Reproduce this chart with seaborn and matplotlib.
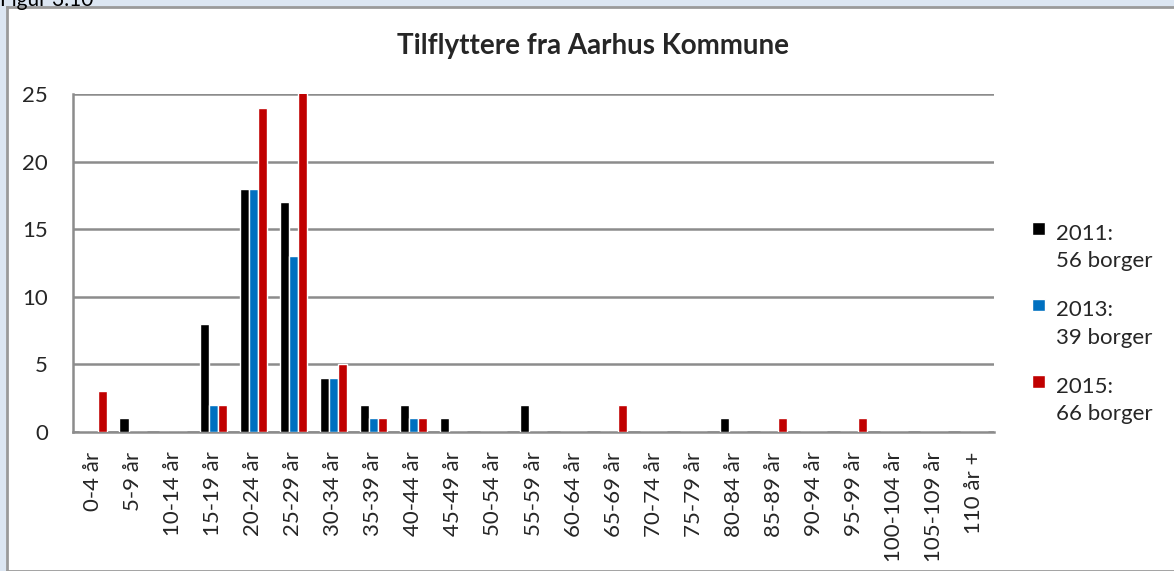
import pandas as pd
import matplotlib.pyplot as plt
import seaborn as sns
from matplotlib.patches import Rectangle
from matplotlib.legend_handler import HandlerPatch

# age groups on the x axis
categories = ['0-4 år', '5-9 år', '10-14 år', '15-19 år', '20-24 år', '25-29 år',
              '30-34 år', '35-39 år', '40-44 år', '45-49 år', '50-54 år', '55-59 år',
              '60-64 år', '65-69 år', '70-74 år', '75-79 år', '80-84 år', '85-89 år',
              '90-94 år', '95-99 år', '100-104 år', '105-109 år', '110 år +']

# counts
v2011 = [0, 1, 0, 8, 18, 17, 4, 2, 2, 1, 0, 2, 0, 0, 0, 0, 1, 0, 0, 0, 0, 0, 0]
v2013 = [0, 0, 0, 2, 18, 13, 4, 1, 1, 0, 0, 0, 0, 0, 0, 0, 0, 0, 0, 0, 0, 0, 0]
v2015 = [3, 0, 0, 2, 24, 26, 5, 1, 1, 0, 0, 0, 0, 2, 0, 0, 0, 1, 0, 1, 0, 0, 0]

series_labels = ['2011:\n56 borger', '2013:\n39 borger', '2015:\n66 borger']
colors = ['#000000', '#0070C0', '#C00000']

# long format for seaborn
df = pd.DataFrame({
    'alder': categories * 3,
    'antal': v2011 + v2013 + v2015,
    'aar': [series_labels[0]] * 23 + [series_labels[1]] * 23 + [series_labels[2]] * 23,
})

sns.set_style('white')
plt.rcParams['font.family'] = ['Lato', 'DejaVu Sans']

fig = plt.figure(figsize=(11.74, 5.71), dpi=100)
fig.patch.set_facecolor('#dce6f2')
# white chart area with grey frame, behind everything
bg = fig.add_axes([7 / 1174, 0, 1, 1 - 7 / 571], zorder=-5)
bg.set_facecolor('white')
bg.set_xticks([])
bg.set_yticks([])
for s in bg.spines.values():
    s.set_color('#9a9a9a')
    s.set_linewidth(2)
fig.text(0.0, 1.0, 'Figur 3.10', fontsize=15, va='center', ha='left', color='black')

ax = fig.add_axes([73 / 1174, 1 - 432 / 571, 921 / 1174, 338 / 571])
ax.patch.set_alpha(0)
sns.barplot(data=df, x='alder', y='antal', hue='aar', palette=colors, width=0.68,
            saturation=1, ax=ax, zorder=3)

ax.set_ylim(0, 25)
ax.set_xlim(-0.5, len(categories) - 0.5)
ax.set_yticks([0, 5, 10, 15, 20, 25])
ax.yaxis.grid(True, color='#8c8c8c', linewidth=1.8, zorder=0)
ax.set_axisbelow(True)
ax.set_xlabel('')
ax.set_ylabel('')
for s in ['top', 'right']:
    ax.spines[s].set_visible(False)
for s in ['left', 'bottom']:
    ax.spines[s].set_color('#8c8c8c')
    ax.spines[s].set_linewidth(1.8)
ax.tick_params(axis='y', length=6, color='#8c8c8c', width=1.8, labelsize=16, pad=12)
ax.tick_params(axis='x', length=0, labelsize=16, pad=14)
plt.setp(ax.get_xticklabels(), rotation=90)

ax.set_title('Tilflyttere fra Aarhus Kommune', fontsize=20, fontweight='bold', pad=29,
             x=(593 - 73) / 921)


# legend square next to the first line of each two-line label
def top_square(legend, orig_handle, xdescent, ydescent, width, height, fontsize):
    return Rectangle((-xdescent, -ydescent + 14.5), 9, 9)


leg = ax.legend(title=None, frameon=False, fontsize=16, loc='upper left',
                bbox_to_anchor=((1012 - 73) / 921, 0.675), labelspacing=1.32,
                handlelength=0.6, handleheight=0.6, handletextpad=0.5,
                handler_map={Rectangle: HandlerPatch(patch_func=top_square)})
for t in leg.get_texts():
    t.set_linespacing(1.45)

fig.savefig('out.png', dpi=100, facecolor=fig.get_facecolor())
